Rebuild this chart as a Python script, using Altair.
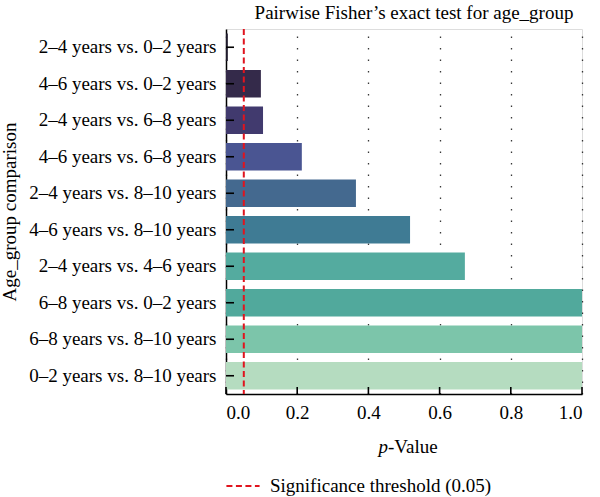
import altair as alt
import pandas as pd

# Pairwise comparisons (top to bottom) and their Fisher's exact test p-values
comparisons = [
    "2–4 years vs. 0–2 years",
    "4–6 years vs. 0–2 years",
    "2–4 years vs. 6–8 years",
    "4–6 years vs. 6–8 years",
    "2–4 years vs. 8–10 years",
    "4–6 years vs. 8–10 years",
    "2–4 years vs. 4–6 years",
    "6–8 years vs. 0–2 years",
    "6–8 years vs. 8–10 years",
    "0–2 years vs. 8–10 years",
]
p_values = [0.005, 0.098, 0.104, 0.213, 0.365, 0.517, 0.671, 1.0, 1.0, 1.0]
bar_colors = [
    "#1f1a2c", "#342a4a", "#413a6e", "#4a5592", "#44698f",
    "#3f7b94", "#54ab9f", "#51a99c", "#7cc5aa", "#b5dcc0",
]
x_ticks = [0.0, 0.2, 0.4, 0.6, 0.8, 1.0]
threshold = [0.05]
threshold_label = "Significance threshold (0.05)"

FONT = "Liberation Serif"
FS = 19
W, H = 356, 365

df = pd.DataFrame({"comparison": comparisons, "p": p_values})
ticks_df = pd.DataFrame({"t": x_ticks})
thr_df = pd.DataFrame({"thr": threshold, "label": [threshold_label]})

x_scale = alt.Scale(domain=[0, 1], nice=False, zero=True)
y_scale = alt.Scale(domain=comparisons, paddingInner=0.25, paddingOuter=0.125)

bars = alt.Chart(df).mark_bar().encode(
    x=alt.X(
        "p:Q",
        scale=x_scale,
        axis=alt.Axis(
            values=x_ticks, format=".1f", title=None, ticks=False,
            labelPadding=9, labelFontSize=FS, labelFont=FONT, labelColor="black",
            grid=True, gridDash=[1.5, 10], gridColor="#222", gridWidth=1.3,
            gridOpacity=0.9, domainColor="black", domainWidth=1.5,
        ),
    ),
    y=alt.Y(
        "comparison:N",
        scale=y_scale,
        sort=comparisons,
        axis=alt.Axis(
            title="Age_group comparison", titleFont=FONT, titleFontSize=FS,
            titleFontWeight="normal", titleColor="black", titlePadding=9,
            ticks=False, labelPadding=10, labelFontSize=FS, labelFont=FONT,
            labelColor="black", domainColor="black", domainWidth=1.5, grid=False,
            labelLimit=400,
        ),
    ),
    fill=alt.Fill("comparison:N", scale=alt.Scale(domain=comparisons, range=bar_colors), legend=None),
)

# inward tick marks on both axes
y_ticks = alt.Chart(df).mark_rule(color="black", strokeWidth=1.6).encode(
    y=alt.Y("comparison:N", scale=y_scale, sort=comparisons),
    x=alt.value(0),
    x2=alt.value(8),
)
x_tick_marks = alt.Chart(ticks_df).mark_rule(color="black", strokeWidth=1.6).encode(
    x=alt.X("t:Q", scale=x_scale),
    y=alt.value(H - 7),
    y2=alt.value(H),
)

thr_line = alt.Chart(thr_df).mark_rule(strokeDash=[6, 3.5], strokeWidth=2).encode(
    x=alt.X("thr:Q", scale=x_scale),
    stroke=alt.Stroke(
        "label:N",
        scale=alt.Scale(domain=[threshold_label], range=["#e0141e"]),
        legend=alt.Legend(
            title=None, orient="none", legendX=-1, legendY=439,
            symbolType="stroke", symbolSize=1100, symbolStrokeWidth=2,
            symbolDash=[6, 3.5], labelFont=FONT, labelFontSize=FS,
            labelColor="black", labelOffset=9, padding=0, labelLimit=400,
        ),
    ),
)

# x-axis title with an italic "p"
p_italic = alt.Chart(thr_df).mark_text(
    font=FONT, fontSize=FS, fontStyle="italic", align="right", baseline="middle", color="black"
).encode(x=alt.value(162), y=alt.value(418), text=alt.value("p"))
p_rest = alt.Chart(thr_df).mark_text(
    font=FONT, fontSize=FS, align="left", baseline="middle", color="black"
).encode(x=alt.value(162), y=alt.value(418), text=alt.value("-Value"))

chart = (
    alt.layer(bars, thr_line, y_ticks, x_tick_marks, p_italic, p_rest)
    .properties(
        width=W,
        height=H,
        title=alt.TitleParams(
            "Pairwise Fisher’s exact test for age_group",
            font=FONT, fontSize=FS, fontWeight="normal", color="black",
            anchor="middle", dx=10, offset=5,
        ),
        autosize=alt.AutoSizeParams(type="none"),
        padding={"left": 226, "top": 29, "right": 18, "bottom": 103},
    )
    .configure_view(stroke=None)
    .configure(background="white")
)

chart.save("out.html", embed_options={"renderer": "svg", "actions": False})
